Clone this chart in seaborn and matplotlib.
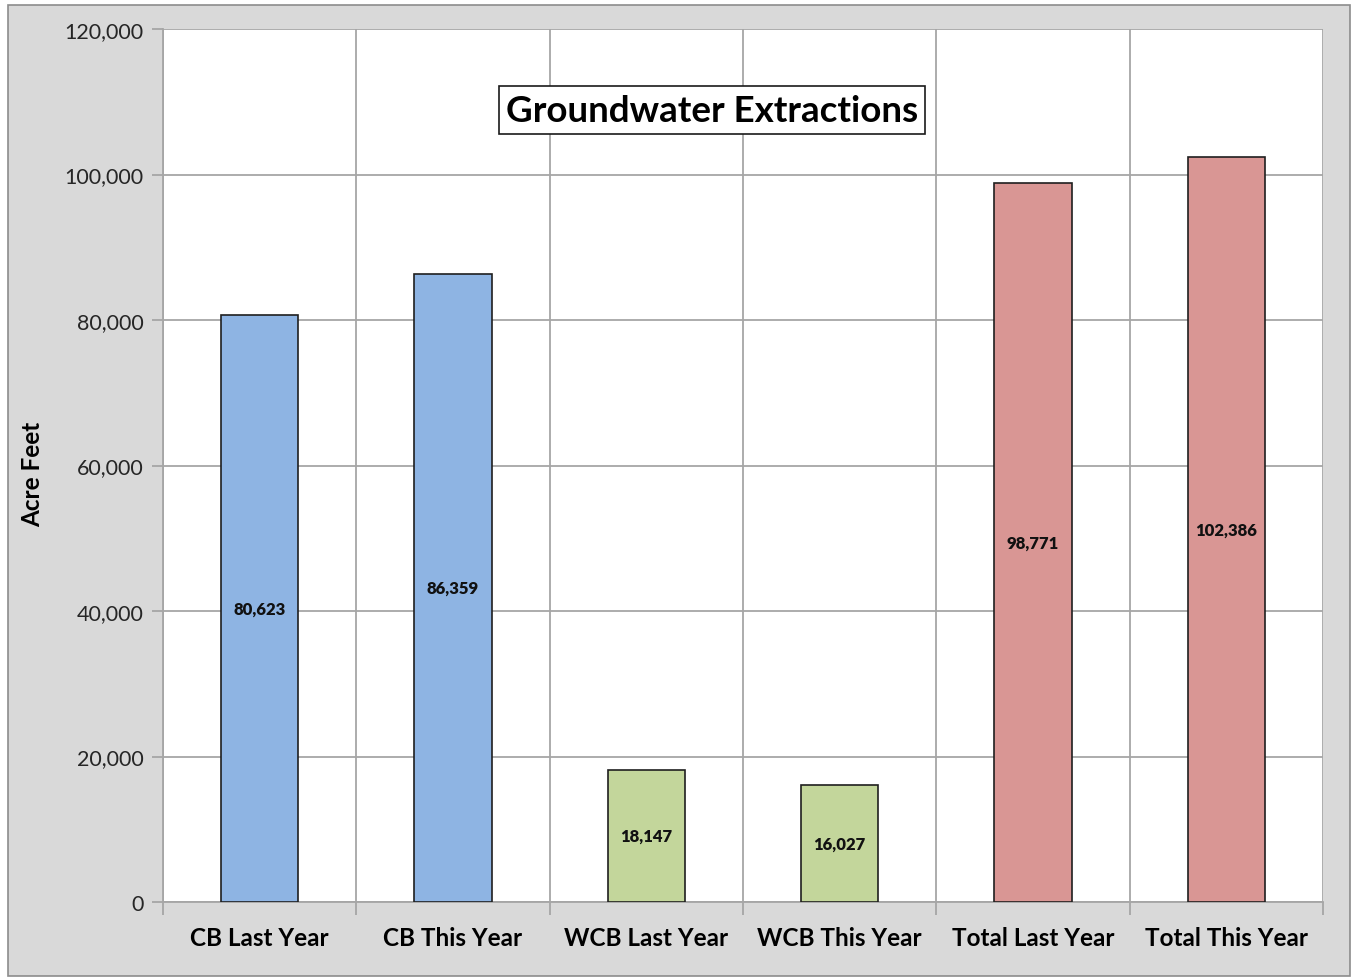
import matplotlib
matplotlib.use("Agg")
import matplotlib.pyplot as plt
import seaborn as sns
import pandas as pd
from matplotlib.patches import Rectangle
from matplotlib.ticker import FuncFormatter, FixedLocator

categories = ["CB Last Year", "CB This Year", "WCB Last Year", "WCB This Year",
              "Total Last Year", "Total This Year"]
values = [80623, 86359, 18147, 16027, 98771, 102386]
colors = ["#8eb4e3", "#8eb4e3", "#c3d69b", "#c3d69b", "#d99694", "#d99694"]
title = "Groundwater Extractions"
ylabel = "Acre Feet"
yticks = [0, 20000, 40000, 60000, 80000, 100000, 120000]

sns.set_theme(style="white")
plt.rcParams["font.family"] = ["Lato", "DejaVu Sans"]

W, H = 1353, 979
fig = plt.figure(figsize=(W / 100, H / 100), dpi=100, facecolor="white")
fig.patches.append(Rectangle((8 / W, 1 - 977 / H), (1350 - 8) / W, (977 - 6) / H,
                             transform=fig.transFigure, facecolor="#d9d9d9",
                             edgecolor="#8c8c8c", linewidth=1.2, zorder=-10))
ax = fig.add_axes([163 / W, 1 - 903 / H, (1323 - 163) / W, (903 - 30) / H])
ax.set_facecolor("white")

df = pd.DataFrame({"cat": categories, "val": values})
sns.barplot(data=df, x="cat", y="val", hue="cat", palette=colors, legend=False,
            saturation=1, width=0.4, edgecolor="#1f1f1f", linewidth=1.2, ax=ax, zorder=3)

for c in ax.containers:
    ax.bar_label(c, labels=[f"{int(round(v)):,}" for v in c.datavalues], label_type="center",
                 fontsize=12, fontweight="heavy", color="#111111")

ax.set_xlim(-0.5, 5.5)
ax.set_ylim(0, 120000)
ax.set_yticks(yticks)
ax.yaxis.set_major_formatter(FuncFormatter(lambda v, p: f"{int(v):,}"))
ax.xaxis.set_minor_locator(FixedLocator([i - 0.5 for i in range(len(categories) + 1)]))

ax.grid(axis="y", which="major", color="#a6a6a6", linewidth=1.3, zorder=0)
ax.grid(axis="x", which="minor", color="#a6a6a6", linewidth=1.3, zorder=0)
ax.grid(axis="x", which="major", visible=False)
ax.set_axisbelow(True)

for s in ["left", "bottom"]:
    ax.spines[s].set_color("#a6a6a6")
    ax.spines[s].set_linewidth(1.3)
for s in ["top", "right"]:
    ax.spines[s].set_visible(False)

ax.tick_params(axis="x", which="major", length=0, pad=17, labelsize=17.5, labelcolor="#000000")
ax.tick_params(axis="x", which="minor", length=9, width=1.3, color="#a6a6a6", direction="out", bottom=True)
ax.tick_params(axis="y", which="major", length=8, width=1.3, color="#a6a6a6", direction="out",
               left=True, pad=6, labelsize=15.5, labelcolor="#262626")
for lab in ax.get_xticklabels():
    lab.set_fontweight("bold")

ax.set_xlabel("")
ax.set_ylabel(ylabel, fontsize=17.5, fontweight="bold", color="#000000")
ax.yaxis.set_label_coords((44 - 163) / (1323 - 163), (903 - 474) / (903 - 30))

ax.text(712 / W, 1 - 111 / H, title, transform=fig.transFigure, ha="center", va="center",
        fontsize=26.5, fontweight="bold", color="#000000", zorder=5,
        bbox=dict(boxstyle="square,pad=0.2", facecolor="white", edgecolor="#1a1a1a", linewidth=1.2))

fig.savefig("out.png", dpi=100, facecolor="white")
